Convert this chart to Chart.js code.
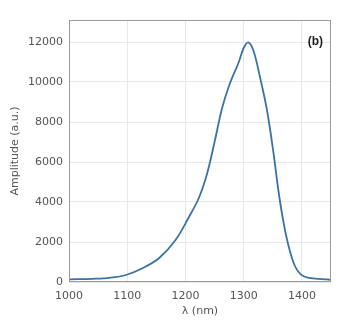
<!DOCTYPE html>
<html>
<head>
<meta charset="utf-8">
<script src="https://cdn.jsdelivr.net/npm/chart.js@4/dist/chart.umd.min.js"></script>
<style>
  html, body { margin: 0; padding: 0; background: #fff; }
  #wrap { width: 348px; height: 322px; position: relative; }
</style>
</head>
<body>
<div id="wrap"><canvas id="spectrum"></canvas></div>
<script>
// wavelength (nm) and amplitude (a.u.)
const wavelengths = [1000, 1040, 1070, 1098, 1127, 1155, 1183, 1206, 1223, 1237, 1250, 1263, 1276, 1291, 1300, 1308, 1317, 1328, 1340, 1351, 1360, 1369, 1378, 1388, 1398, 1410, 1428, 1450];
const amplitudes  = [130, 160, 210, 350, 700, 1200, 2100, 3250, 4200, 5400, 7000, 8700, 9900, 10950, 11700, 11980, 11550, 10250, 8600, 6500, 4500, 2900, 1700, 800, 380, 220, 160, 110];
const xTicks = [1000, 1100, 1200, 1300, 1400];
const yTicks = [0, 2000, 4000, 6000, 8000, 10000, 12000];

const points = wavelengths.map((w, i) => ({ x: w, y: amplitudes[i] }));

// box around the plot + the panel tag
const frame = {
    id: 'frame',
    afterDraw(chart) {
        const { ctx, chartArea: a } = chart;
        ctx.save();
        ctx.strokeStyle = '#9a9a9a';
        ctx.lineWidth = 1;
        ctx.strokeRect(a.left + 0.5, a.top + 0.5, a.right - a.left - 1, a.bottom - a.top - 1);
        ctx.fillStyle = '#222';
        ctx.font = 'bold 12px "Liberation Sans", Arial, sans-serif';
        ctx.textAlign = 'right';
        ctx.textBaseline = 'middle';
        ctx.fillText('(b)', a.right - 8, 42);
        ctx.restore();
    }
};

const tickFont = { family: '"DejaVu Sans", sans-serif', size: 11 };
const plain = v => String(v);

new Chart(document.getElementById('spectrum'), {
    type: 'line',
    data: {
        datasets: [{
            data: points,
            borderColor: '#3a73a6',
            borderWidth: 1.8,
            pointRadius: 0,
            tension: 0.35,
            fill: false
        }]
    },
    options: {
        responsive: true,
        maintainAspectRatio: false,
        animation: false,
        layout: { padding: { left: 0, right: 17, top: 20, bottom: 0 } },
        plugins: { legend: { display: false }, tooltip: { enabled: false } },
        scales: {
            x: {
                type: 'linear',
                min: 1000,
                max: 1450,
                afterBuildTicks: s => { s.ticks = xTicks.map(v => ({ value: v })); },
                afterFit: s => { s.height = 40; },
                grid: { color: '#e8e8e8', drawTicks: false },
                border: { display: false },
                ticks: { color: '#555', font: tickFont, padding: 8, maxRotation: 0, callback: plain },
                title: { display: true, text: 'λ (nm)', color: '#555', font: tickFont, padding: { top: 3 } }
            },
            y: {
                min: 0,
                max: 13100,
                afterBuildTicks: s => { s.ticks = yTicks.map(v => ({ value: v })); },
                afterFit: s => { s.width = 69; },
                grid: { color: '#e8e8e8', drawTicks: false },
                border: { display: false },
                ticks: { color: '#555', font: tickFont, padding: 6, callback: plain },
                title: { display: true, text: 'Amplitude (a.u.)', color: '#555', font: tickFont, padding: { top: 9, bottom: 0 } }
            }
        }
    },
    plugins: [frame]
});
</script>
</body>
</html>
